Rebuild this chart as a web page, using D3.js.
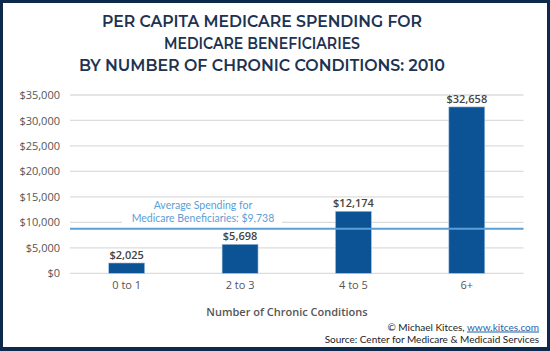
<!DOCTYPE html>
<html>
<head>
<meta charset="utf-8">
<script src="https://cdn.jsdelivr.net/npm/d3@7"></script>
<style>
  html, body { margin: 0; padding: 0; background: #0d2a4c; }
  svg { display: block; }
</style>
</head>
<body>
<svg id="chart" width="550" height="351"></svg>
<script>
const categories = ["0 to 1", "2 to 3", "4 to 5", "6+"];
const values = [2025, 5698, 12174, 32658];
const yTicks = [0, 5000, 10000, 15000, 20000, 25000, 30000, 35000];
const avgLabelValue = 9738;
const avgLineLevel = 8750; // level of the drawn average line
const titleLines = [
  "PER CAPITA MEDICARE SPENDING FOR",
  "MEDICARE BENEFICIARIES",
  "BY NUMBER OF CHRONIC CONDITIONS: 2010"
];

const svg = d3.select("#chart");
const W = 550, H = 351;

// frame
svg.append("rect").attr("x", 0).attr("y", 0).attr("width", W).attr("height", H).attr("fill", "#0d2a4c");
svg.append("rect").attr("x", 3).attr("y", 3).attr("width", 544).attr("height", 344).attr("fill", "#ffffff");

// title
const titleFont = "Montserrat, 'Open Sans', 'Noto Sans', sans-serif";
const titleWidths = [320, 196, 366];
titleLines.forEach((t, i) => {
  svg.append("text")
    .attr("x", 262).attr("y", 26.5 + i * 22.3)
    .attr("text-anchor", "middle")
    .attr("font-family", titleFont)
    .attr("font-weight", 600)
    .attr("font-size", 16)
    .attr("fill", "#1c3352")
    .attr("textLength", titleWidths[i])
    .attr("lengthAdjust", "spacingAndGlyphs")
    .text(t);
});

const x = d3.scaleBand().domain(categories).range([70, 523.5]).paddingInner(0.683).paddingOuter(0.3415);
const y = d3.scaleLinear().domain([0, 35000]).range([273.3, 95]);

const labelFont = "'Open Sans', 'Noto Sans', sans-serif";
const smallFont = "Lato, 'Open Sans', sans-serif";

// gridlines
const grid = svg.append("g");
yTicks.forEach(v => {
  if (v === 10000) {
    grid.append("line").attr("x1", 70).attr("x2", 122).attr("y1", y(v)).attr("y2", y(v))
      .attr("stroke", "#dcdcdc").attr("stroke-width", 1.3);
    grid.append("line").attr("x1", 282).attr("x2", 523.5).attr("y1", y(v)).attr("y2", y(v))
      .attr("stroke", "#dcdcdc").attr("stroke-width", 1.3);
  } else {
    grid.append("line").attr("x1", 70).attr("x2", 523.5).attr("y1", y(v)).attr("y2", y(v))
      .attr("stroke", "#dcdcdc").attr("stroke-width", 1.3);
  }
});

// y axis labels
const yAxis = d3.axisLeft(y).tickValues(yTicks).tickSize(0).tickPadding(0)
  .tickFormat(d => "$" + d3.format(",")(d));
const yg = svg.append("g").attr("transform", "translate(60,0)").call(yAxis);
yg.select(".domain").remove();
yg.selectAll("text").attr("font-family", labelFont).attr("font-size", 11).attr("fill", "#555");

// bars
svg.append("g").selectAll("rect").data(values).join("rect")
  .attr("x", (d, i) => x(categories[i]))
  .attr("y", d => y(d))
  .attr("width", x.bandwidth())
  .attr("height", d => y(0) - y(d))
  .attr("fill", "#0b5394")
  .attr("stroke", "#a9c4e0")
  .attr("stroke-width", 0.6);

// value labels
svg.append("g").selectAll("text").data(values).join("text")
  .attr("x", (d, i) => x(categories[i]) + x.bandwidth() / 2)
  .attr("y", d => y(d) - 4)
  .attr("text-anchor", "middle")
  .attr("font-family", labelFont)
  .attr("font-weight", 600)
  .attr("font-size", 11)
  .attr("fill", "#444")
  .text(d => "$" + d3.format(",")(d));

// x axis labels
const xAxis = d3.axisBottom(x).tickSize(0).tickPadding(0);
const xg = svg.append("g").attr("transform", "translate(0,281)").call(xAxis);
xg.select(".domain").remove();
xg.selectAll("text").attr("font-family", labelFont).attr("font-size", 11).attr("fill", "#555");

// average line
svg.append("line")
  .attr("x1", 70).attr("x2", 523.5)
  .attr("y1", y(avgLineLevel)).attr("y2", y(avgLineLevel))
  .attr("stroke", "#5aa0d8").attr("stroke-width", 2);

const avgText = svg.append("text")
  .attr("x", 203)
  .attr("text-anchor", "middle")
  .attr("font-family", smallFont)
  .attr("font-size", 10.5)
  .attr("fill", "#5aa0d8");
avgText.append("tspan").attr("x", 203).attr("y", 209).text("Average Spending for");
avgText.append("tspan").attr("x", 203).attr("y", 221.7).text("Medicare Beneficiaries: $" + d3.format(",")(avgLabelValue));

// x axis title
svg.append("text")
  .attr("x", 287).attr("y", 315.5)
  .attr("text-anchor", "middle")
  .attr("font-family", labelFont)
  .attr("font-weight", 600)
  .attr("font-size", 11)
  .attr("fill", "#555")
  .text("Number of Chronic Conditions");

// credits
const cred = svg.append("text")
  .attr("x", 539).attr("y", 330.5)
  .attr("text-anchor", "end")
  .attr("font-family", smallFont)
  .attr("font-size", 10)
  .attr("fill", "#222");
cred.append("tspan").text("© Michael Kitces, ");
cred.append("tspan").attr("fill", "#1f5fa8").attr("text-decoration", "underline").text("www.kitces.com");
svg.append("text")
  .attr("x", 539).attr("y", 342.6)
  .attr("text-anchor", "end")
  .attr("font-family", smallFont)
  .attr("font-size", 10)
  .attr("fill", "#222")
  .text("Source: Center for Medicare & Medicaid Services");
</script>
</body>
</html>
